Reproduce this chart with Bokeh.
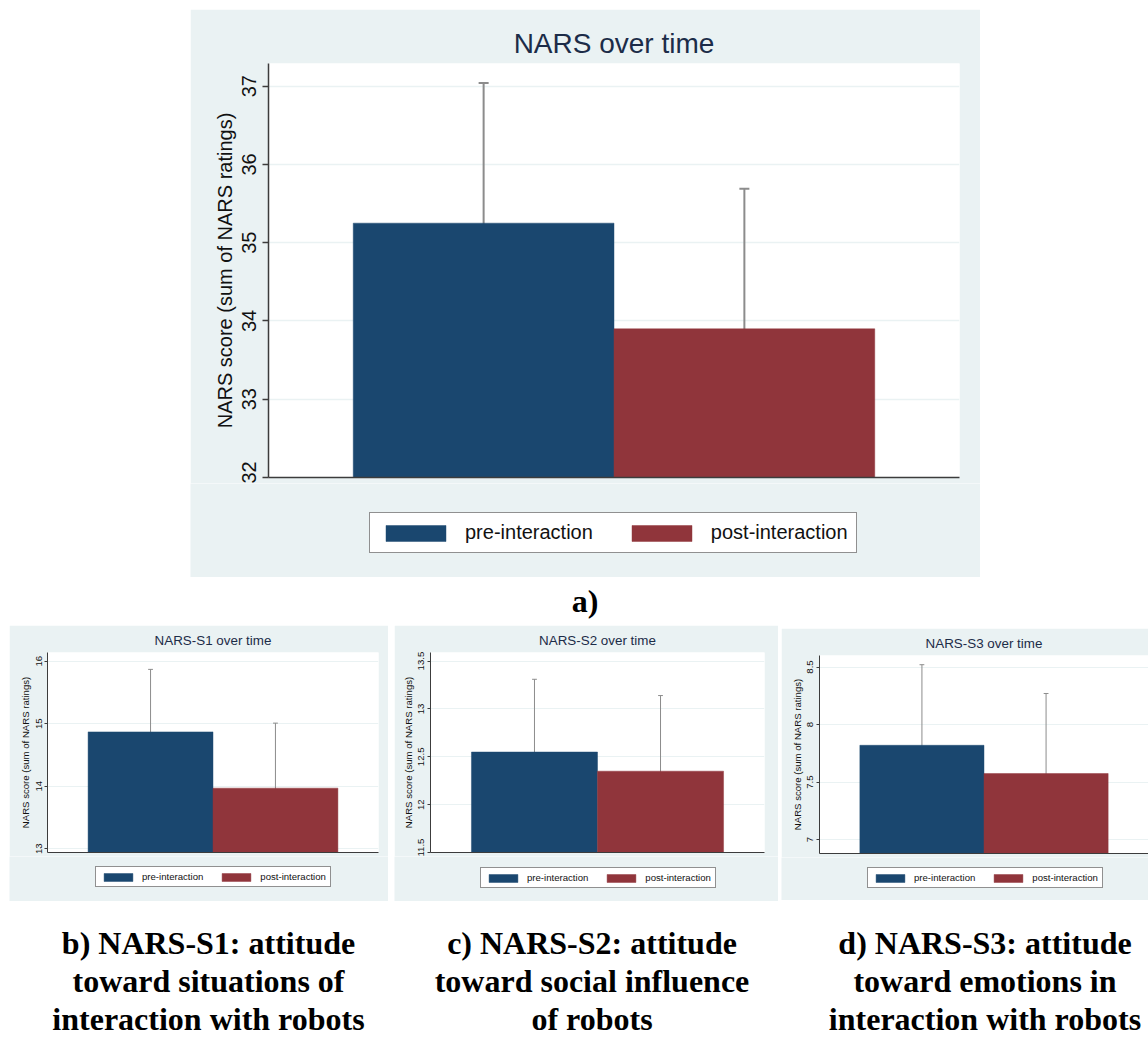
from bokeh.plotting import figure
from bokeh.models import (ColumnDataSource, Range1d, FixedTicker, Whisker, TeeHead,
                          Legend, LegendItem, Div, Spacer)
from bokeh.layouts import column, row
from bokeh.embed import file_html
from bokeh.resources import INLINE

# ---------------- data ----------------
groups = ["pre-interaction", "post-interaction"]
colors = ["#1a476f", "#90353b"]
y_label = "NARS score (sum of NARS ratings)"

nars_title = "NARS over time"
nars_mean = [35.25, 33.90]
nars_lower = [33.46, 32.11]
nars_upper = [37.04, 35.69]
nars_ticks = [32, 33, 34, 35, 36, 37]
nars_tick_labels = ["32", "33", "34", "35", "36", "37"]
nars_range = [32.0, 37.29]

s1_title = "NARS-S1 over time"
s1_mean = [14.87, 13.97]
s1_lower = [13.88, 12.94]
s1_upper = [15.87, 15.01]
s1_ticks = [13, 14, 15, 16]
s1_tick_labels = ["13", "14", "15", "16"]
s1_range = [12.94, 16.14]

s2_title = "NARS-S2 over time"
s2_mean = [12.55, 12.35]
s2_lower = [11.79, 11.555]
s2_upper = [13.31, 13.14]
s2_ticks = [11.5, 12, 12.5, 13, 13.5]
s2_tick_labels = ["11.5", "12", "12.5", "13", "13.5"]
s2_range = [11.5, 13.59]

s3_title = "NARS-S3 over time"
s3_mean = [7.82, 7.575]
s3_lower = [7.12, 6.88]
s3_upper = [8.52, 8.27]
s3_ticks = [7, 7.5, 8, 8.5]
s3_tick_labels = ["7", "7.5", "8", "8.5"]
s3_range = [6.88, 8.60]

caption_a = "a)"
caption_b = ["b) NARS-S1: attitude", "toward situations of", "interaction with robots"]
caption_c = ["c) NARS-S2: attitude", "toward social influence", "of robots"]
caption_d = ["d) NARS-S3: attitude", "toward emotions in", "interaction with robots"]

# ---------------- styles ----------------
BG = "#eaf2f3"
GRID = "#eaf2f3"
AXIS = "#3c3c3c"
EBAR = "#8c8c8c"
TITLE_C = "#1c2c48"
FONT = "Liberation Sans"


def make_panel(title, means, lowers, uppers, ticks, tick_labels, yr,
               width, main_h, leg_h, bl, br, bt, bb, s, leg_xy):
    src = ColumnDataSource(dict(
        x=[i + 1 for i in range(len(groups))], group=groups,
        mean=means, lower=lowers, upper=uppers, color=colors))
    p = figure(width=width, height=main_h, output_backend="svg", toolbar_location=None,
               tools="", x_range=Range1d(0.175, 2.825), y_range=Range1d(yr[0], yr[1]),
               min_border_left=bl, min_border_right=br, min_border_top=bt,
               min_border_bottom=bb, background_fill_color="white",
               border_fill_color=BG, outline_line_color=None)
    p.vbar(x="x", top="mean", bottom=yr[0], width=1.0, source=src,
           fill_color="color", line_color="color", line_alpha=0.45, line_width=1)
    lw = max(1.0, 2.0 * s)
    w = Whisker(source=src, base="x", upper="upper", lower="lower",
                line_color=EBAR, line_width=lw,
                upper_head=TeeHead(size=10 * s, line_color=EBAR, line_width=lw),
                lower_head=TeeHead(size=10 * s, line_color=EBAR, line_width=lw))
    p.add_layout(w)

    # title
    p.title.text = title
    p.title.align = "center"
    p.title.text_font = FONT
    p.title.text_font_style = "normal"
    p.title.text_font_size = f"{28 * s:.1f}px"
    p.title.text_color = TITLE_C

    # x axis: only the line
    p.xaxis.ticker = FixedTicker(ticks=[1, 2], minor_ticks=[])
    p.xaxis.major_label_overrides = {1: " ", 2: " "}
    p.xaxis.major_tick_line_color = None
    p.xaxis.minor_tick_line_color = None
    p.xaxis.major_tick_in = 0
    p.xaxis.major_tick_out = 0
    p.xaxis.major_label_text_font_size = "1px"
    p.xaxis.major_label_standoff = 0
    p.xaxis.axis_line_color = AXIS
    p.xaxis.axis_line_width = max(1.0, 1.5 * s)
    p.xgrid.visible = False

    # y axis
    p.yaxis.ticker = FixedTicker(ticks=ticks, minor_ticks=[])
    p.yaxis.major_label_overrides = {t: l for t, l in zip(ticks, tick_labels)}
    p.yaxis.major_label_orientation = "vertical"
    p.yaxis.major_label_text_font = FONT
    p.yaxis.major_label_text_font_size = f"{20 * s:.1f}px"
    p.yaxis.major_label_text_color = "#111111"
    p.yaxis.major_label_standoff = max(2, round(6 * s))
    p.yaxis.major_tick_in = 0
    p.yaxis.major_tick_out = max(3, round(6 * s))
    p.yaxis.major_tick_line_color = AXIS
    p.yaxis.major_tick_line_width = max(1.0, 1.5 * s)
    p.yaxis.minor_tick_line_color = None
    p.yaxis.axis_line_color = AXIS
    p.yaxis.axis_line_width = max(1.0, 1.5 * s)
    p.yaxis.axis_label = y_label
    p.yaxis.axis_label_text_font = FONT
    p.yaxis.axis_label_text_font_style = "normal"
    p.yaxis.axis_label_text_font_size = f"{20 * s:.1f}px"
    p.yaxis.axis_label_text_color = "#111111"
    p.yaxis.axis_label_standoff = max(1, round(4 * s))
    p.ygrid.grid_line_color = GRID
    p.ygrid.grid_line_width = max(1.0, 1.5 * s)

    # legend strip: same panel background
    q = figure(width=width, height=leg_h, output_backend="svg", toolbar_location=None,
               tools="", x_axis_location=None, y_axis_location=None,
               min_border=0, min_border_left=0, min_border_right=0,
               min_border_top=0, min_border_bottom=0,
               background_fill_color=BG, border_fill_color=BG,
               outline_line_color=None)
    aligned_off = True
    try:
        p.frame_align = False
        q.frame_align = False
    except AttributeError:
        aligned_off = False
    q.grid.visible = False
    rq = q.vbar(x="x", top="mean", bottom=yr[0], width=1.0, source=src,
                fill_color="color", line_color="color", line_alpha=0.45,
                line_width=1, visible=False)
    loc = leg_xy if aligned_off else (leg_xy[0] - bl, leg_xy[1])
    legend = Legend(
        items=[LegendItem(label=g, renderers=[rq], index=i) for i, g in enumerate(groups)],
        orientation="horizontal", location=loc,
        border_line_color="#222222", border_line_width=1,
        background_fill_color="white", background_fill_alpha=1.0,
        label_text_font=FONT, label_text_font_size=f"{20 * s:.1f}px",
        label_text_color="#111111",
        glyph_width=round(75 * s), glyph_height=round(20 * s),
        label_height=round(20 * s), label_standoff=round(12 * s),
        spacing=round(31 * s), padding=round(8 * s), margin=0)
    q.add_layout(legend)
    return column(p, q)


S = 0.479
panel_a = make_panel(nars_title, nars_mean, nars_lower, nars_upper, nars_ticks,
                     nars_tick_labels, nars_range, 790, 474, 94, 78, 21, 54, 6, 1.0,
                     (179, 24))
panel_b = make_panel(s1_title, s1_mean, s1_lower, s1_upper, s1_ticks, s1_tick_labels,
                     s1_range, 379, 231, 45, 38, 10, 27, 4, S, (86, 14))
panel_c = make_panel(s2_title, s2_mean, s2_lower, s2_upper, s2_ticks, s2_tick_labels,
                     s2_range, 384, 231, 45, 36, 14, 27, 4, S, (86, 13))
panel_d = make_panel(s3_title, s3_mean, s3_lower, s3_upper, s3_ticks, s3_tick_labels,
                     s3_range, 367, 229, 43, 38, 0, 26, 4, S, (86, 12))

SERIF = "'Liberation Serif', 'Times New Roman', serif"


def cap_div(lines, width, height, line_h):
    html = ('<div style="font-family:%s; font-weight:bold; font-size:32px; '
            'line-height:%dpx; text-align:center; white-space:nowrap; color:#000; '
            'width:%dpx;">%s</div>') % (SERIF, line_h, width, "<br>".join(lines))
    return Div(text=html, width=width, height=height, margin=0)


div_a = cap_div([caption_a], 60, 48, 48)
div_b = cap_div(caption_b, 417, 114, 38)
div_c = cap_div(caption_c, 350, 114, 38)
div_d = cap_div(caption_d, 326, 114, 38)

layout = column(
    Spacer(width=1148, height=9),
    row(Spacer(width=190, height=568), panel_a),
    row(Spacer(width=555, height=48), div_a),
    row(Spacer(width=9, height=276), panel_b, Spacer(width=6, height=276), panel_c,
        Spacer(width=3, height=276), column(Spacer(width=367, height=3), panel_d)),
    Spacer(width=1148, height=23),
    row(div_b, div_c, Spacer(width=55, height=114), div_d),
)

open("out.html", "w").write(file_html(layout, INLINE))
